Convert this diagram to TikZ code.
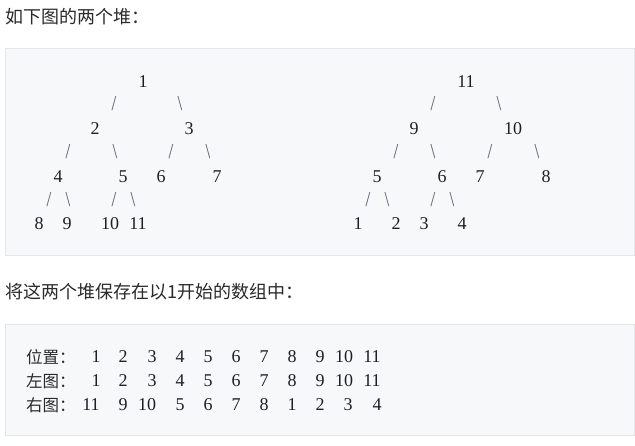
\documentclass[tikz,border=0pt]{standalone}
\usepackage{fontspec}
\setmainfont{Liberation Serif}
\newfontfamily\cjk{Noto Sans CJK SC}
\definecolor{boxfill}{HTML}{F6F8FA}
\definecolor{boxline}{HTML}{E4E6EA}
\definecolor{txt}{HTML}{2A2A2A}
\definecolor{numc}{HTML}{1E1E2A}
\definecolor{slc}{HTML}{555566}
\begin{document}
\begin{tikzpicture}[x=1pt,y=-1pt,
  codebox/.style={fill=boxfill,draw=boxline,line width=1pt},
  head/.style={font=\cjk\fontsize{18}{18}\selectfont,text=txt,anchor=west,inner sep=0pt},
  num/.style={font=\fontsize{18}{18}\selectfont,text=numc,inner sep=0pt},
  sl/.style={font=\fontsize{17}{17}\selectfont,text=slc,inner sep=0pt,yscale=1.25},
  lab/.style={font=\cjk\fontsize{16.5}{16.5}\selectfont,text=txt,anchor=west,inner sep=0pt}]
\useasboundingbox (0,0) rectangle (635,446);
\fill[white] (0,0) rectangle (635,446);
% headings
\node[head] (h1) at (5,17) {如下图的两个堆：};
\node[head] (h2) at (5,292) {将这两个堆保存在以1开始的数组中：};
% boxes
\path[codebox] (5,49) rectangle (634,256);
\path[codebox] (5,325) rectangle (634,436);
% left tree
\node[num] (a1) at (143,82) {1};
\node[num] (a2) at (95,129) {2};
\node[num] (a3) at (189,129) {3};
\node[num] (a4) at (58,177) {4};
\node[num] (a5) at (123,177) {5};
\node[num] (a6) at (161,177) {6};
\node[num] (a7) at (217,177) {7};
\node[num] (a8) at (39,224) {8};
\node[num] (a9) at (67,224) {9};
\node[num] (a10) at (110,224) {10};
\node[num] (a11) at (138,224) {11};
\node[sl] (s1) at (114,104) {/};
\node[sl] (s2) at (180,104) {\textbackslash};
\node[sl] (s3) at (68,152) {/};
\node[sl] (s4) at (115,152) {\textbackslash};
\node[sl] (s5) at (171,152) {/};
\node[sl] (s6) at (208,152) {\textbackslash};
\node[sl] (s7) at (49,200) {/};
\node[sl] (s8) at (68,200) {\textbackslash};
\node[sl] (s9) at (114,200) {/};
\node[sl] (s10) at (133,200) {\textbackslash};
% right tree
\node[num] (b11) at (466,82) {11};
\node[num] (b9) at (414,129) {9};
\node[num] (b10) at (513,129) {10};
\node[num] (b5) at (377,177) {5};
\node[num] (b6) at (442,177) {6};
\node[num] (b7) at (480,177) {7};
\node[num] (b8) at (546,177) {8};
\node[num] (b1) at (358,224) {1};
\node[num] (b2) at (396,224) {2};
\node[num] (b3) at (424,224) {3};
\node[num] (b4) at (462,224) {4};
\node[sl] (t1) at (433,104) {/};
\node[sl] (t2) at (499,104) {\textbackslash};
\node[sl] (t3) at (396,152) {/};
\node[sl] (t4) at (433,152) {\textbackslash};
\node[sl] (t5) at (490,152) {/};
\node[sl] (t6) at (537,152) {\textbackslash};
\node[sl] (t7) at (368,200) {/};
\node[sl] (t8) at (387,200) {\textbackslash};
\node[sl] (t9) at (433,200) {/};
\node[sl] (t10) at (452,200) {\textbackslash};
% table
\node[lab] (rowp) at (26,357) {位置：};
\node[lab] (rowl) at (26,381) {左图：};
\node[lab] (rowr) at (26,405) {右图：};
\foreach \v/\x [count=\i] in {1/96,2/123,3/152,4/180,5/208,6/236,7/264,8/292,9/320,10/344,11/372}{
  \node[num] (p\i) at (\x,357) {\v};
  \node[num] (l\i) at (\x,381) {\v};
}
\foreach \v/\x [count=\i] in {11/91,9/123,10/147,5/180,6/208,7/236,8/264,1/292,2/320,3/348,4/377}{
  \node[num] (r\i) at (\x,405) {\v};
}
\end{tikzpicture}
\end{document}
